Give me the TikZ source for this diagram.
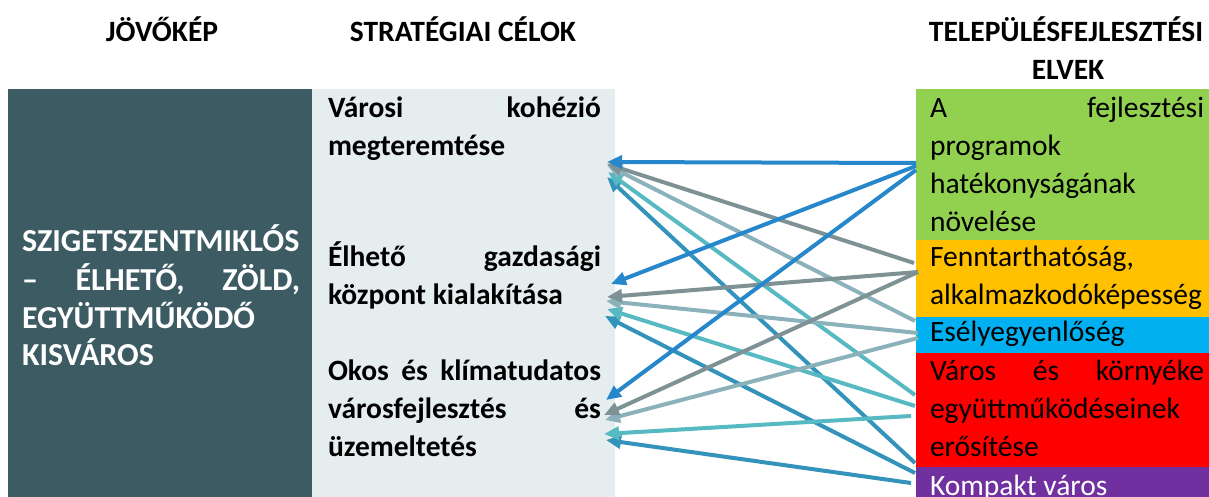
\documentclass[tikz,border=0pt]{standalone}
\usepackage{fontspec}
\setmainfont{Carlito}
\usetikzlibrary{arrows.meta}
\definecolor{visionbg}{HTML}{3D5B63}
\definecolor{goalbg}{HTML}{E6EDEF}
\definecolor{pgreen}{HTML}{92D050}
\definecolor{porange}{HTML}{FFC000}
\definecolor{pblue}{HTML}{00B0F0}
\definecolor{pred}{HTML}{FF0000}
\definecolor{ppurple}{HTML}{7030A0}
\definecolor{aBlue}{HTML}{2787CB}
\definecolor{aGray}{HTML}{7E9295}
\definecolor{aLight}{HTML}{8BB1BB}
\definecolor{aTeal}{HTML}{57B9C1}
\definecolor{aDark}{HTML}{3393BA}
\begin{document}
\begin{tikzpicture}[x=1pt,y=-1pt,
  boxbg/.style={anchor=north west,inner sep=0pt,outer sep=0pt,draw=none},
  para/.style={anchor=north west,inner sep=0pt,outer sep=0pt,align=justify,
    font=\fontsize{29.5}{37.8}\selectfont},
  boldpara/.style={para,font=\fontsize{29.5}{37.8}\selectfont\bfseries},
  visionpara/.style={para,font=\fontsize{32}{37.2}\selectfont\bfseries},
  header/.style={anchor=base,inner sep=0pt,font=\fontsize{29.5}{35}\selectfont\bfseries},
  conn/.style={line width=4pt,-{Triangle[length=15pt,width=13pt]}}]
\useasboundingbox (0,0) rectangle (1209,497);
\clip (0,0) rectangle (1209,497);
\fill[white] (0,0) rectangle (1209,497);
% headers
\node[header] (h1) at (162,42) {JÖVŐKÉP};
\node[header] (h2) at (463,42) {STRATÉGIAI CÉLOK};
\node[header] (h3) at (1066,42) {TELEPÜLÉSFEJLESZTÉSI};
\node[header] (h4) at (1068,80) {ELVEK};
% backgrounds
\node[boxbg,fill=visionbg,minimum width=304pt,minimum height=430pt] (visionbox) at (8,89) {};
\node[boxbg,fill=goalbg,minimum width=303pt,minimum height=430pt] (goalbox) at (312,89) {};
\node[boxbg,fill=pgreen,minimum width=293pt,minimum height=151pt] (pb1) at (916,89) {};
\node[boxbg,fill=porange,minimum width=293pt,minimum height=77pt] (pb2) at (916,240) {};
\node[boxbg,fill=pblue,minimum width=293pt,minimum height=36pt] (pb3) at (916,317) {};
\node[boxbg,fill=pred,minimum width=293pt,minimum height=114pt] (pb4) at (916,353) {};
\node[boxbg,fill=ppurple,minimum width=293pt,minimum height=60pt] (pb5) at (916,467) {};
% vision text
\node[visionpara,text=white,text width=278pt] (vision) at (22,225)
  {\strut SZIGETSZENTMIKLÓS\\ – ÉLHETŐ, ZÖLD,\linebreak EGYÜTTMŰKÖDŐ\\ KISVÁROS};
% goals
\node[boldpara,text width=273pt] (g1) at (328,91.5)
  {\strut Városi kohézió\linebreak megteremtése};
\node[boldpara,text width=273pt] (g2) at (328,240.5)
  {\strut Élhető gazdasági\linebreak központ kialakítása};
\node[boldpara,text width=273pt] (g3) at (328,354.5)
  {\strut Okos és klímatudatos\linebreak városfejlesztés és\linebreak üzemeltetés};
% principles
\node[para,text width=274pt] (p1) at (930,91.5)
  {\strut A fejlesztési\linebreak programok\\ hatékonyságának\\ növelése};
\node[para,text width=274pt] (p2) at (930,240.5)
  {\strut Fenntarthatóság,\\ alkalmazkodóképesség};
\node[para,text width=274pt] (p3) at (930,315)
  {\strut Esélyegyenlőség};
\node[para,text width=274pt] (p4) at (930,354.5)
  {\strut Város és környéke\linebreak együttműködéseinek\\ erősítése};
\node[para,text width=274pt,text=white] (p5) at (930,469)
  {\strut Kompakt város};
% connector end points
\coordinate (s1a) at (916,163); \coordinate (s1b) at (916,166); \coordinate (s1c) at (916,170);
\coordinate (s2a) at (914,263); \coordinate (s2b) at (918,272); \coordinate (s2c) at (918,272);
\coordinate (s3a) at (915,321); \coordinate (s3b) at (918,333); \coordinate (s3c) at (918,338);
\coordinate (s4a) at (915,395); \coordinate (s4b) at (915,406); \coordinate (s4c) at (911,416);
\coordinate (s5a) at (915,463); \coordinate (s5b) at (915,473); \coordinate (s5c) at (911,483);
\coordinate (t1a) at (607,162); \coordinate (t2a) at (611,284); \coordinate (t3a) at (606,400);
\coordinate (t1b) at (607,164); \coordinate (t2b) at (607,297); \coordinate (t3b) at (604,415);
\coordinate (t1c) at (607,165); \coordinate (t2c) at (606,301); \coordinate (t3c) at (605,420);
\coordinate (t1d) at (608,172); \coordinate (t2d) at (607,309); \coordinate (t3d) at (604,434);
\coordinate (t1e) at (607,177); \coordinate (t2e) at (605,316); \coordinate (t3e) at (606,440);
% connectors
\draw[conn,aDark] (s5a) -- (t1e);
\draw[conn,aDark] (s5b) -- (t2e);
\draw[conn,aDark] (s5c) -- (t3e);
\draw[conn,aTeal] (s4a) -- (t1d);
\draw[conn,aTeal] (s4b) -- (t2d);
\draw[conn,aTeal] (s4c) -- (t3d);
\draw[conn,aLight] (s3a) -- (t1c);
\draw[conn,aLight] (s3b) -- (t2c);
\draw[conn,aLight] (s3c) -- (t3c);
\draw[conn,aGray] (s2a) -- (t1b);
\draw[conn,aGray] (s2b) -- (t2b);
\draw[conn,aGray] (s2c) -- (t3b);
\draw[conn,aBlue] (s1a) -- (t1a);
\draw[conn,aBlue] (s1b) -- (t2a);
\draw[conn,aBlue] (s1c) -- (t3a);
\end{tikzpicture}
\end{document}
